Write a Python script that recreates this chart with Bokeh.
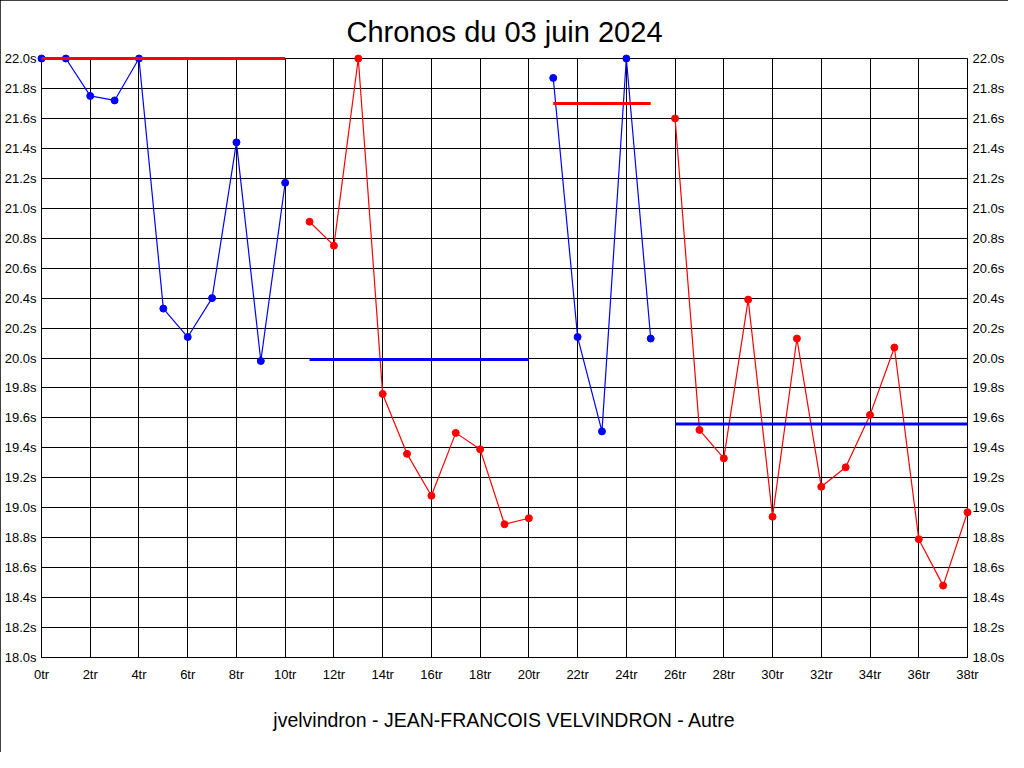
from bokeh.plotting import figure
from bokeh.models import Range1d, LinearAxis, FixedTicker, CustomJSTickFormatter, Title
from bokeh.embed import file_html
from bokeh.resources import INLINE

# ---- data (values above 22.0s are clipped at the top) ----
laps_1 = [0, 1, 2, 3, 4, 5, 6, 7, 8, 9, 10]
times_1 = [22.0, 22.0, 21.75, 21.72, 22.0, 20.33, 20.14, 20.40, 21.44, 19.98, 21.17]
avg_1 = 22.0

laps_2 = [11, 12, 13, 14, 15, 16, 17, 18, 19, 20]
times_2 = [20.91, 20.75, 22.0, 19.76, 19.36, 19.08, 19.50, 19.39, 18.89, 18.93]
avg_2 = 19.99

laps_3 = [21, 22, 23, 24, 25]
times_3 = [21.87, 20.14, 19.51, 22.0, 20.13]
avg_3 = 21.70

laps_4 = [26, 27, 28, 29, 30, 31, 32, 33, 34, 35, 36, 37, 38]
times_4 = [21.60, 19.52, 19.33, 20.39, 18.94, 20.13, 19.14, 19.27, 19.62, 20.07, 18.79, 18.48, 18.97]
avg_4 = 19.56

x_ticks = [0, 2, 4, 6, 8, 10, 12, 14, 16, 18, 20, 22, 24, 26, 28, 30, 32, 34, 36, 38]
y_ticks = [18.0, 18.2, 18.4, 18.6, 18.8, 19.0, 19.2, 19.4, 19.6, 19.8, 20.0,
           20.2, 20.4, 20.6, 20.8, 21.0, 21.2, 21.4, 21.6, 21.8, 22.0]

title_text = "Chronos du 03 juin 2024"
footer_text = "jvelvindron - JEAN-FRANCOIS VELVINDRON - Autre"

BLUE = "#0000ff"
RED = "#ff0000"
FONT = "Liberation Sans"

p = figure(width=1008, height=752, output_backend="svg", toolbar_location=None,
           x_range=Range1d(0, 38), y_range=Range1d(18.0, 22.0),
           min_border_left=41, min_border_right=41, min_border_top=58, min_border_bottom=94)
p.styles = {"outline": "1px solid black", "outline-offset": "-1px"}

p.title.text = title_text
p.title.align = "center"
p.title.text_font = FONT
p.title.text_font_size = "29px"
p.title.text_font_style = "normal"
p.title.text_color = "black"
p.title.standoff = 22

p.add_layout(Title(text=footer_text, align="center", text_font=FONT, text_font_size="19.5px",
                   text_font_style="normal", text_color="black", standoff=44), "below")

x_fmt = CustomJSTickFormatter(code="return tick.toFixed(0) + 'tr';")
y_fmt = CustomJSTickFormatter(code="return tick.toFixed(1) + 's';")

p.xaxis.ticker = FixedTicker(ticks=x_ticks)
p.xaxis.formatter = x_fmt
p.yaxis.ticker = FixedTicker(ticks=y_ticks)
p.yaxis.formatter = y_fmt

p.add_layout(LinearAxis(ticker=FixedTicker(ticks=y_ticks), formatter=y_fmt), "right")

for ax in p.axis:
    ax.major_tick_out = 0
    ax.major_tick_in = 0
    ax.minor_tick_out = 0
    ax.minor_tick_in = 0
    ax.axis_line_color = "black"
    ax.major_label_text_font = FONT
    ax.major_label_text_font_size = "13px"
    ax.major_label_text_color = "black"
    ax.major_label_standoff = 5
p.xaxis.major_label_standoff = 9

p.xgrid.ticker = FixedTicker(ticks=x_ticks)
p.ygrid.ticker = FixedTicker(ticks=y_ticks)
p.grid.grid_line_color = "black"
p.grid.grid_line_alpha = 1.0
p.grid.grid_line_width = 1
p.outline_line_color = "black"
p.outline_line_alpha = 1.0
p.background_fill_color = "white"
p.border_fill_color = "white"

segments = [
    (laps_1, times_1, avg_1, BLUE, RED),
    (laps_2, times_2, avg_2, RED, BLUE),
    (laps_3, times_3, avg_3, BLUE, RED),
    (laps_4, times_4, avg_4, RED, BLUE),
]
for laps, times, avg, c, c_avg in segments:
    p.line(laps, times, line_color=c, line_width=1.2)
    p.scatter(laps, times, size=7, fill_color=c, line_color=c, level="overlay")
    p.line([laps[0], laps[-1]], [avg, avg], line_color=c_avg, line_width=3, level="overlay")

open("out.html", "w").write(file_html(p, INLINE))
